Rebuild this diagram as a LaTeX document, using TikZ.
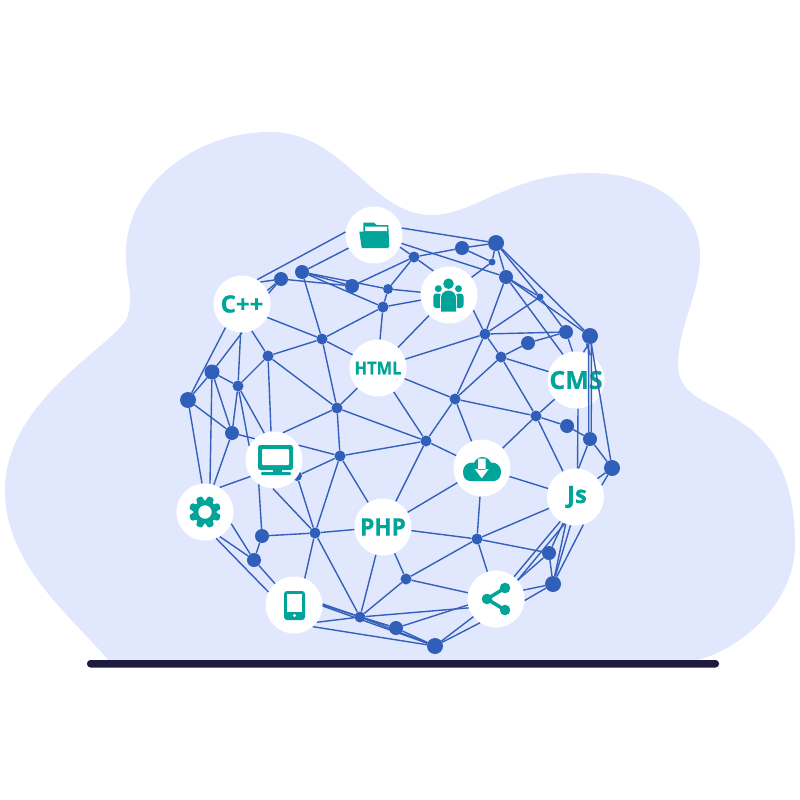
\documentclass[tikz,border=0pt]{standalone}
\usepackage{fontspec}
\setmainfont{Open Sans}[FakeStretch=0.94,BoldFeatures={FakeBold=0.5}]
\newfontfamily\widelabel{Open Sans}[BoldFeatures={FakeBold=0.5}]
\usetikzlibrary{backgrounds}
\definecolor{blobc}{HTML}{E1E8FD}
\definecolor{barc}{HTML}{1F1B40}
\definecolor{linec}{HTML}{3460BB}
\definecolor{dotc}{HTML}{2F5FB9}
\definecolor{teal}{HTML}{00A499}
\tikzset{
  edge/.style={draw=linec,line width=1.4pt},
  dotn/.style={circle,fill=dotc,inner sep=0pt,minimum size=#1},
  hub/.style={circle,fill=white,inner sep=0pt,minimum size=57pt,text=teal,font=\bfseries},
  icon/.style={fill=teal},
  hole/.style={fill=white}
}
\begin{document}
\begin{tikzpicture}[x=1pt,y=-1pt]
\useasboundingbox (0,0) rectangle (800,800);
\begin{pgfonlayer}{background}
\fill[blobc] (110,662) .. controls (70,615) and (5,565) .. (5,490)
 .. controls (5,400) and (115,345) .. (127,318)
 .. controls (135,295) and (125,280) .. (126,250)
 .. controls (128,185) and (195,132) .. (270,132)
 .. controls (345,132) and (370,215) .. (432,215)
 .. controls (475,215) and (510,173) .. (590,173)
 .. controls (650,173) and (700,205) .. (700,255)
 .. controls (700,295) and (678,325) .. (678,365)
 .. controls (678,425) and (795,390) .. (795,545)
 .. controls (795,600) and (745,650) .. (690,662) -- cycle;
\fill[barc,rounded corners=3.5pt] (87,660) rectangle (719,667.5);
\end{pgfonlayer}
% dots
\foreach \n/\x/\y/\s in {a1/281/279/14,a2/302/272/14,a3/352/286/14,a4/388/289/10,a5/383/307/11,a6/322/339/11,a7/268/356/11,a8/238/386/11,a9/212/372/15,a10/188/400/16,a11/232/433/14,a12/337/408/11,a13/340/456/11,a14/297/476/10,a15/426/441/11,a16/455/399/11,a17/414/257/11,a18/462/248/14,a19/496/243/16,a20/492/262/7,a21/506/277/14,a22/540/297/7,a23/485/334/11,a24/501/357/11,a25/528/343/14,a26/566/332/14,a27/590/336/16,a28/536/416/11,a29/567/426/14,a30/590/439/14,a31/612/468/16,a32/262/536/14,a33/254/560/14,a34/315/533/11,a35/360/617/11,a36/396/628/14,a37/435/646/16,a38/406/579/11,a39/477/539/11,a40/549/553/14,a41/553/584/16}
  \node[dotn=\s pt] (\n) at (\x,\y) {};
% white hubs
\node[hub] (folder) at (374,235) {};
\node[hub,font=\widelabel\bfseries\fontsize{24}{24}\selectfont] (cpp) at (242,304) {C++};
\node[hub] (people) at (449,295) {};
\node[hub,font=\bfseries\fontsize{17.5}{17.5}\selectfont] (html) at (378,368) {HTML};
\node[hub,font=\widelabel\bfseries\fontsize{25}{25}\selectfont] (cms) at (576,380) {CMS};
\node[hub] (mon) at (274,460) {};
\node[hub] (down) at (482,468) {};
\node[hub,font=\widelabel\bfseries\fontsize{24}{24}\selectfont,text height=16pt,text depth=4pt] (js) at (575.5,497) {\kern3pt Js};
\node[hub] (gear) at (205,512) {};
\node[hub,font=\bfseries\fontsize{24}{24}\selectfont] (php) at (383,527) {PHP};
\node[hub] (tablet) at (294,605) {};
\node[hub] (share) at (496,599) {};
% connectors
\foreach \p/\q in {folder.174/cpp.58,folder/a2,folder.-25/a17,folder.14/a19,folder.-17/a21,a3/a17,a4/a17,a2/a4,a2/a5,a2/a3,a1/a3,a1/cpp.50,a1/cpp.28,a1/cpp.22,a4/people,a4/a5,a5/people,a5/a6,a5/html.86,a6/cpp.-28,a6/a7,a6/html,a6/a12,a6/a2,a7/cpp.-70,a7/a8,a7/a12,a7/mon.96,a12/html,a12/mon.72,a12/a15,a12/a13,a8/cpp,a9/cpp.-90,a10/cpp.-125,a9/a10,a9/a8,a9/a11,a9/gear.80,a8/a11,a8/mon.150,a8/mon.110,a10/a11,a10/gear.96,a11/gear.72,a11/mon.132,a17/a18,people.123/a17,a18/a19,a18/a20,a19/a20,a19/a21,a19/a22,a19/a27,people.38/a20,a21/a22,a21/a27,a21/a23,a21/cms.117,a22/a23,a22/a26,a23/a26,a23/a24,people.-32/a23,a23/a16,a23/html.18,a24/a25,a25/a26,a24/cms,a24/a16,a24/a28,a16/a28,a26/cms.97,a27.-100/cms.75,a27.-115/cms.60,a28/cms,a28/a29,a29/a30,a28/js,a28/down,a16/a15,a16/down,a16/html,html/people,a27.-80/a30.80,a27.-100/a30.100,a27/a31,cms.-86/js.86,a30/js.84,a30/a31,a31/js.40,a31/js.24,a13/a14,a14/a34,a13/a34,a13/php,a13/a15,mon.31/a13,a15/php,a15/down,a15/html,mon.-122/a32,mon.-92/a34,gear.59/mon.-145,a32/a34,a32/a33,a33/gear.-24,a33/gear.-59,a33/tablet,gear.-67/tablet.153,a34/php,a34/tablet.68,a34/a35,php/a35,tablet.-37/a35,tablet.2/a35,tablet.0/a36,tablet.-2/a37,tablet.-49/a37,php/a38,a38/a35,a35/a36,a36/a37,a35/a37,a35/share.-162,a36/share.-168,a37/share.-142,a37/share.-124,a38/share,a38/a39,php/a39,a39/down,a39/js,a39/a40,a39/share,down/js,down/php,a40/share.41,a40/a41,a40/js,a41/js.-110,a41/js.-100,a41/js.-74,a41/share.18,a41/share.-3,share.51/js.-122,share.41/js.-112}
  \draw[edge] (\p) -- (\q);
% folder icon
\fill[icon] (363.3,232) -- (363.3,222.7) -- (374,222.7) -- (376.7,225) -- (388.3,225) -- (389.3,247) -- (386,247) -- (386,232) -- cycle;
\fill[hole] (365,226.5) -- (375,226.5) -- (387,226.5) -- (387,231) -- (365,231) -- cycle;
\fill[icon] (359.3,231.7) -- (386,231.7) -- (388.3,248) -- (361.7,248) -- cycle;
% people icon
\fill[icon] (448.5,283.7) circle (5.3);
\fill[icon] (438.3,288.7) circle (3.5) (458.5,288.7) circle (3.5);
\fill[icon,rounded corners=3pt] (433.3,308) -- (433.3,293.5) -- (442,293.5) -- (442,308) -- cycle;
\fill[icon,rounded corners=3pt] (455,308) -- (455,293.5) -- (463.5,293.5) -- (463.5,308) -- cycle;
\fill[hole,rounded corners=7pt] (440.2,313) -- (440.2,289.5) -- (456.8,289.5) -- (456.8,313) -- cycle;
\fill[icon] (441,311.5) -- (441,298) arc[start angle=180,end angle=0,radius=7.5pt] -- (456,311.5) -- cycle;
% monitor icon
\fill[icon,rounded corners=2.5pt] (258,445) rectangle (293,470);
\fill[hole,rounded corners=1pt] (262,449) rectangle (289,465);
\fill[icon] (273,470) rectangle (282,473);
\fill[icon,rounded corners=1pt] (261,472) rectangle (291,475);
% gear icon
\fill[icon] (205,512) circle (11.5);
\foreach \a in {22.5,67.5,...,337.5}
  \fill[icon,rotate around={\a:(205,512)},rounded corners=1.2pt] (200.8,503) -- (202,496) -- (208,496) -- (209.2,503) -- cycle;
\fill[hole] (205,512) circle (6.7);
% tablet icon
\fill[icon,rounded corners=3pt] (284,591) rectangle (305,620);
\fill[hole] (287,594) rectangle (302,612);
\fill[hole] (294.5,615.5) circle (1.6);
% cloud icon
\fill[icon,rounded corners=7pt] (463.3,481) rectangle (500.5,466);
\fill[icon] (482.5,466) circle (9) (472,471.5) circle (9) (492,471.5) circle (9);
\fill[hole] (478,458.7) rectangle (485.5,470) (474.7,469) -- (488.8,469) -- (481.7,478.3) -- cycle;
% share icon
\draw[teal,line width=3.5pt] (505,588) -- (487,599) -- (505,610);
\fill[icon] (505,588) circle (5.3) (487,599) circle (5.3) (505,610) circle (5.3);
\end{tikzpicture}
\end{document}
